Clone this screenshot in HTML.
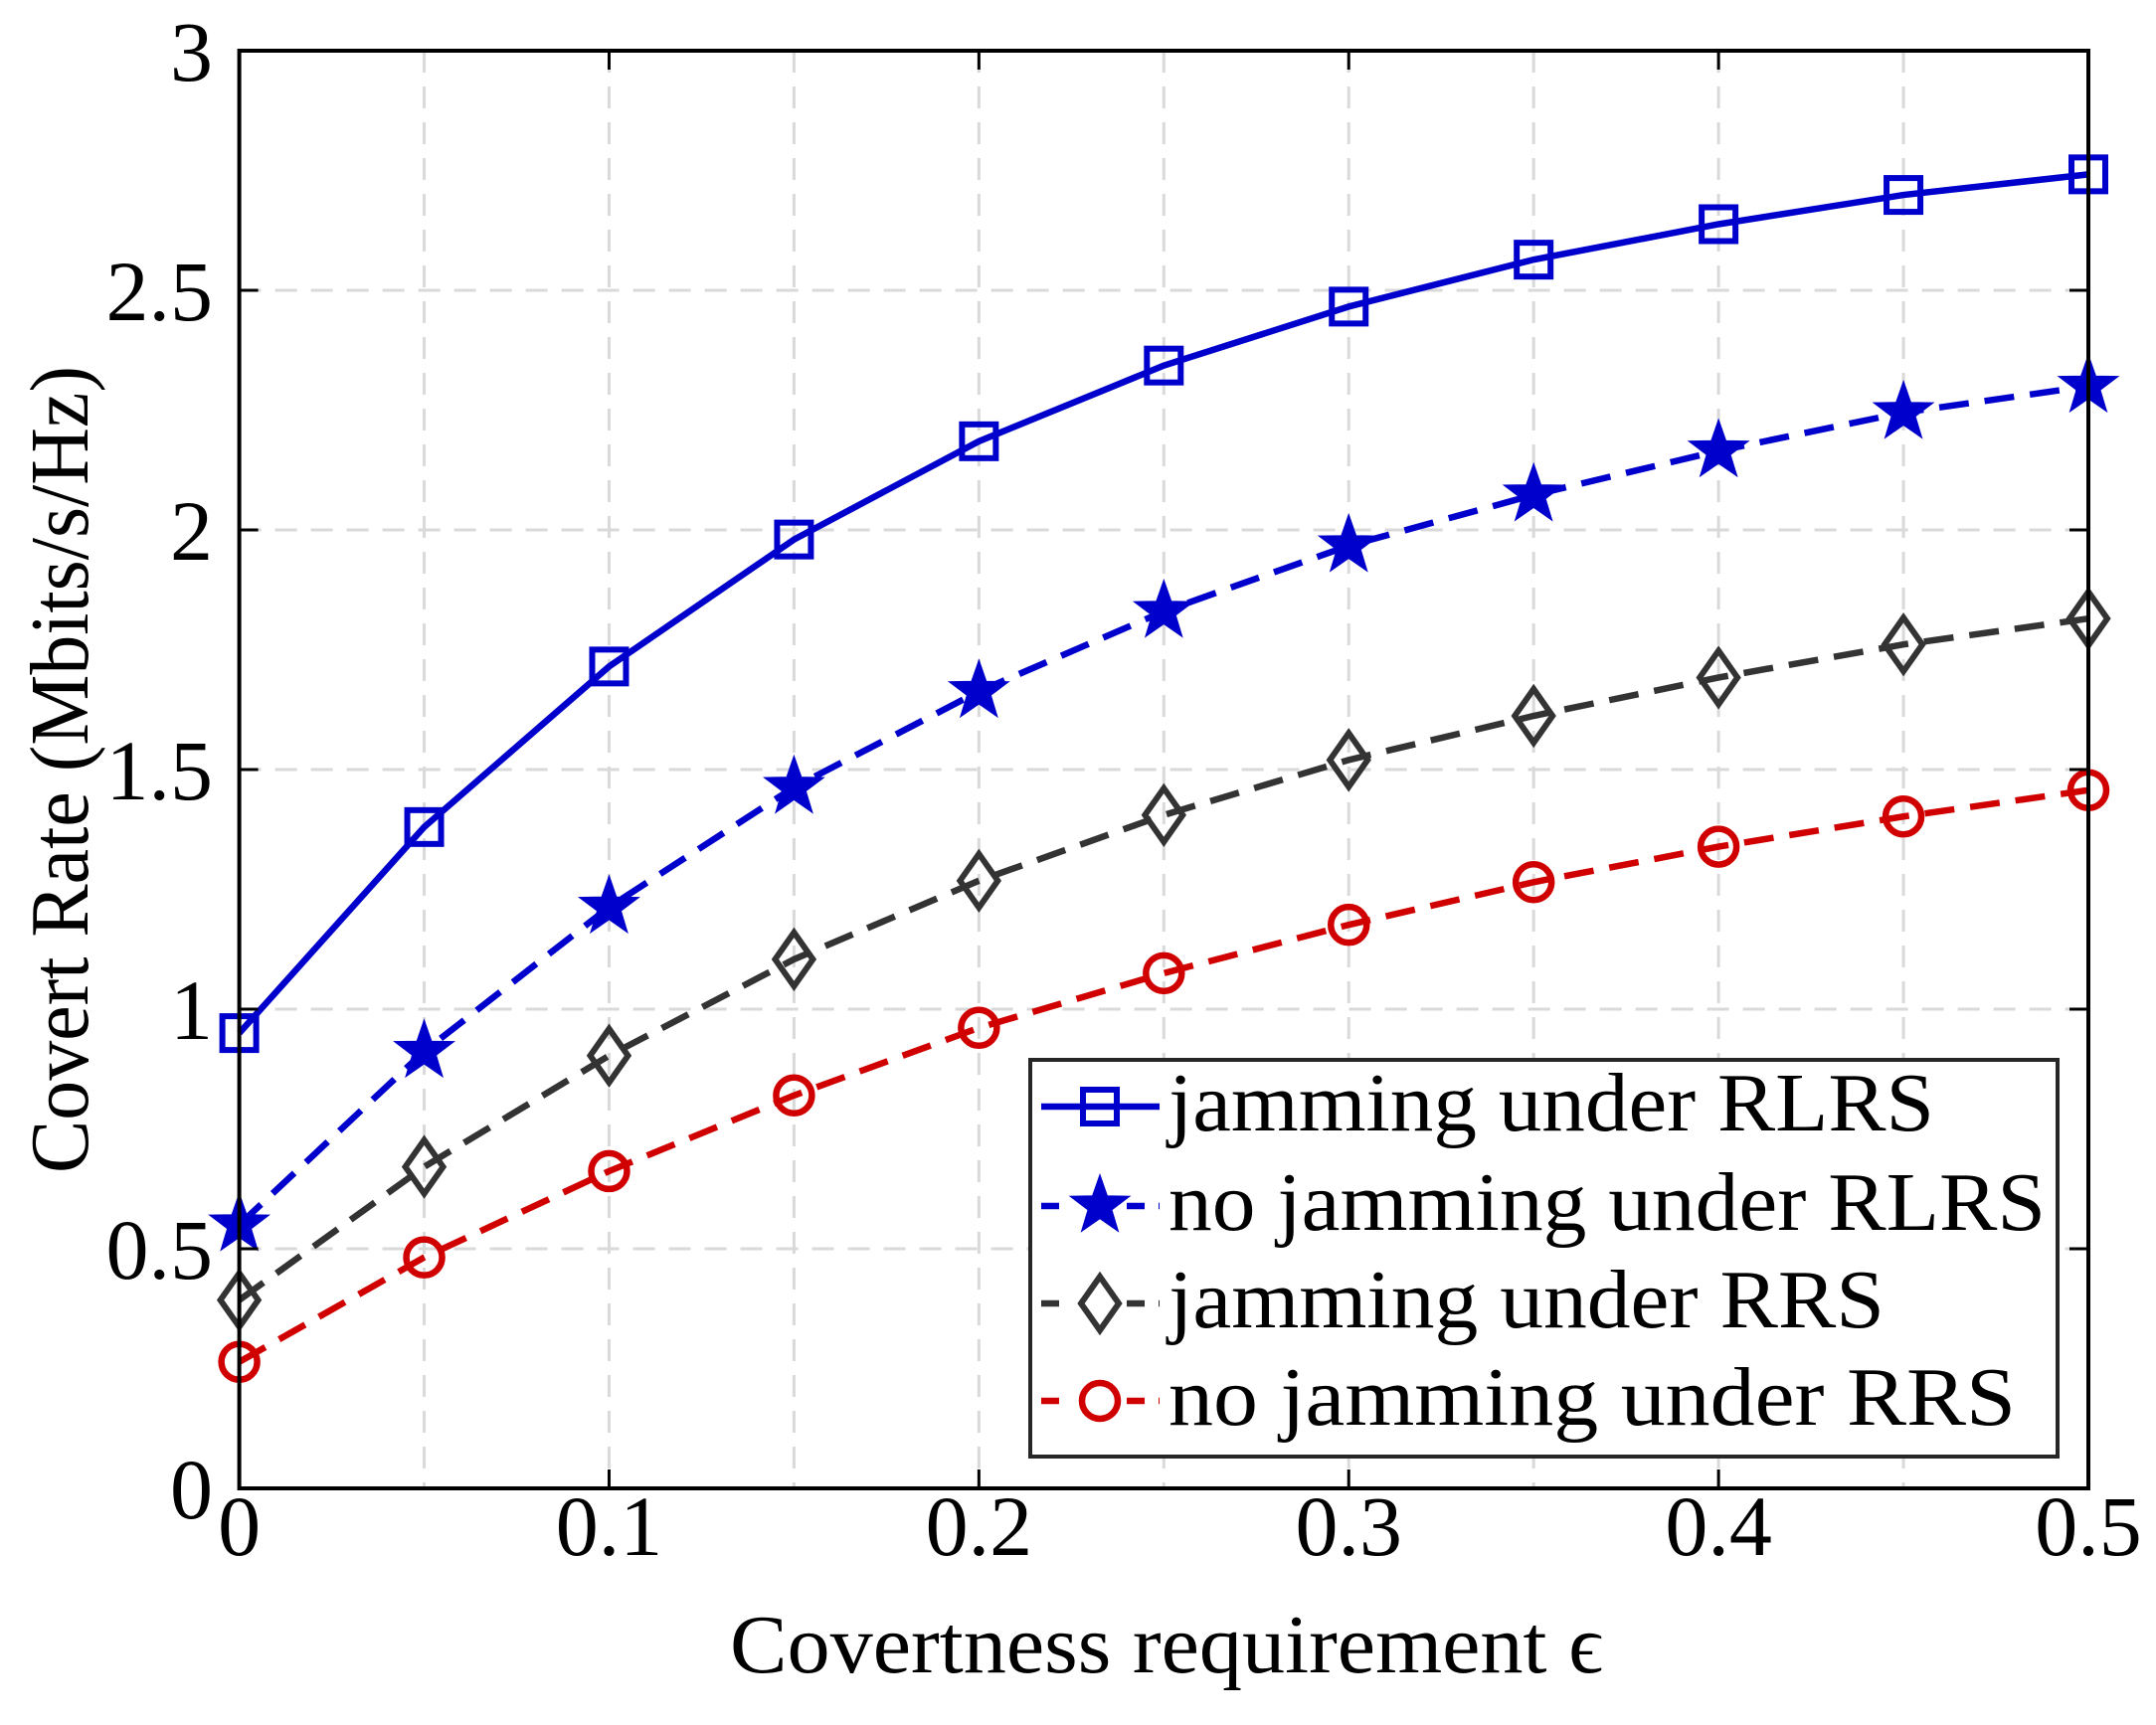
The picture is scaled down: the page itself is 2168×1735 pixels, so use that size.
<!DOCTYPE html>
<html><head><meta charset="utf-8"><style>
html,body{margin:0;padding:0;background:#fff;}
svg{display:block;font-family:"Liberation Serif",serif;}
</style></head><body>
<svg id="chart" width="2168" height="1735" viewBox="0 0 2168 1735" xmlns="http://www.w3.org/2000/svg">
<g id="grid"></g>
<g id="series"></g>
<g id="axes"></g>
<g id="legend"></g>
</svg>
<script>
const xValues = [0, 0.05, 0.1, 0.15, 0.2, 0.25, 0.3, 0.35, 0.4, 0.45, 0.5];
const jamRLRS = [0.95, 1.38, 1.715, 1.98, 2.185, 2.343, 2.466, 2.564, 2.638, 2.699, 2.742];
const noJamRLRS = [0.55, 0.912, 1.213, 1.463, 1.663, 1.83, 1.967, 2.073, 2.165, 2.245, 2.30];
const jamRRS = [0.393, 0.671, 0.903, 1.104, 1.268, 1.405, 1.52, 1.612, 1.692, 1.761, 1.815];
const noJamRRS = [0.264, 0.482, 0.662, 0.82, 0.961, 1.075, 1.176, 1.265, 1.339, 1.402, 1.457];
const xTicks = [0, 0.1, 0.2, 0.3, 0.4, 0.5];
const xTickLabels = ["0", "0.1", "0.2", "0.3", "0.4", "0.5"];
const xGrid = [0, 0.05, 0.1, 0.15, 0.2, 0.25, 0.3, 0.35, 0.4, 0.45, 0.5];
const yTicks = [0, 0.5, 1, 1.5, 2, 2.5, 3];
const yTickLabels = ["0", "0.5", "1", "1.5", "2", "2.5", "3"];
const seriesNames = ["jamming under RLRS", "no jamming under RLRS", "jamming under RRS", "no jamming under RRS"];

const NS = "http://www.w3.org/2000/svg";
const L = 240.6, R = 2100, T = 51, B = 1497;
const xs = v => L + (v - 0) / 0.5 * (R - L);
const ys = v => B - v / 3 * (B - T);
function mk(tag, attrs, parent) {
  const e = document.createElementNS(NS, tag);
  for (const k in attrs) e.setAttribute(k, attrs[k]);
  parent.appendChild(e);
  return e;
}
const grid = document.getElementById('grid');
const axes = document.getElementById('axes');
const sg = document.getElementById('series');
const lg = document.getElementById('legend');

xGrid.forEach(v => {
  if (v === 0 || v === 0.5) return;
  const l = mk('line', {x1: xs(v), x2: xs(v), y1: T, y2: B, stroke: '#d9d9d9', 'stroke-width': 3, 'stroke-dasharray': '22 14'}, grid);
  
  
});
yTicks.forEach(v => {
  if (v === 0 || v === 3) return;
  const l = mk('line', {x1: L, x2: R, y1: ys(v), y2: ys(v), stroke: '#d9d9d9', 'stroke-width': 3, 'stroke-dasharray': '22 14'}, grid);
  
  
});

const styles = [
  {data: jamRLRS, color: '#0000cc', dash: null, marker: 'square'},
  {data: noJamRLRS, color: '#0000cc', dash: '30 16', marker: 'star'},
  {data: jamRRS, color: '#333333', dash: '30 16', marker: 'diamond'},
  {data: noJamRRS, color: '#d00000', dash: '30 16', marker: 'circle'}
];
function marker(type, x, y, color, parent) {
  let e;
  const s = 17;
  if (type === 'square') e = mk('rect', {x: x - s, y: y - s, width: 2 * s, height: 2 * s, fill: 'none', stroke: color, 'stroke-width': 6}, parent);
  else if (type === 'circle') e = mk('circle', {cx: x, cy: y, r: 18, fill: 'none', stroke: color, 'stroke-width': 6.5}, parent);
  else if (type === 'diamond') e = mk('polygon', {points: `${x},${y - 27} ${x + 19},${y} ${x},${y + 27} ${x - 19},${y}`, fill: 'none', stroke: color, 'stroke-width': 6}, parent);
  else {
    const pts = [];
    for (let i = 0; i < 10; i++) {
      const r = i % 2 ? 12 : 30, a = -Math.PI / 2 + i * Math.PI / 5;
      pts.push((x + r * Math.cos(a)).toFixed(1) + ',' + (y + r * Math.sin(a)).toFixed(1));
    }
    e = mk('polygon', {points: pts.join(' '), fill: color, stroke: color, 'stroke-width': 2}, parent);
  }
  return e;
}
styles.forEach((st, si) => {
  const pts = st.data.map((v, i) => xs(xValues[i]) + ',' + ys(v)).join(' ');
  const pl = mk('polyline', {points: pts, fill: 'none', stroke: st.color, 'stroke-width': 6.5}, sg);
  if (st.dash) pl.setAttribute('stroke-dasharray', st.dash);
  
  
  st.data.forEach((v, i) => {
    const m = marker(st.marker, xs(xValues[i]), ys(v), st.color, sg);
    
    
  });
});

const box = mk('rect', {x: L, y: T, width: R - L, height: B - T, fill: 'none', stroke: '#000', 'stroke-width': 4}, axes);


xTicks.forEach((v, i) => {
  mk('line', {x1: xs(v), x2: xs(v), y1: B, y2: B - 19, stroke: '#000', 'stroke-width': 3}, axes);
  mk('line', {x1: xs(v), x2: xs(v), y1: T, y2: T + 19, stroke: '#000', 'stroke-width': 3}, axes);
  const t = mk('text', {x: xs(v), y: 1564, 'text-anchor': 'middle', 'font-size': 86}, axes);
  t.textContent = xTickLabels[i];
  
  
});
yTicks.forEach((v, i) => {
  mk('line', {x1: L, x2: L + 19, y1: ys(v), y2: ys(v), stroke: '#000', 'stroke-width': 3}, axes);
  mk('line', {x1: R, x2: R - 19, y1: ys(v), y2: ys(v), stroke: '#000', 'stroke-width': 3}, axes);
  const t = mk('text', {x: 214, y: ys(v) + 30, 'text-anchor': 'end', 'font-size': 86}, axes);
  t.textContent = yTickLabels[i];
  
  
});
const xt = mk('text', {x: 1173, y: 1682, 'text-anchor': 'middle', 'font-size': 84, textLength: 878, lengthAdjust: 'spacingAndGlyphs'}, axes);
xt.textContent = 'Covertness requirement ϵ';


const yt = mk('text', {x: 0, y: 0, 'text-anchor': 'middle', 'font-size': 84, textLength: 812, lengthAdjust: 'spacingAndGlyphs', transform: 'translate(88,774) rotate(-90)'}, axes);
yt.textContent = 'Covert Rate (Mbits/s/Hz)';



const lb = mk('rect', {x: 1036, y: 1066, width: 1033, height: 399, fill: '#fff', stroke: '#262626', 'stroke-width': 4}, lg);


const rowsY = [1113, 1213, 1311, 1409];
const textW = [770, 882, 720, 852];
styles.forEach((st, i) => {
  const g = mk('g', {}, lg);
  
  
  const y = rowsY[i];
  const l = mk('line', {x1: 1047, x2: 1166, y1: y, y2: y, stroke: st.color, 'stroke-width': 6.5}, g);
  if (st.dash) l.setAttribute('stroke-dasharray', '18 14 0 54 18 14');
  marker(st.marker, 1106, y, st.color, g);
  const t = mk('text', {x: 1175, y: y + 24, 'font-size': 84, textLength: textW[i], lengthAdjust: 'spacingAndGlyphs'}, g);
  t.textContent = seriesNames[i];
});
</script>
</body></html>
